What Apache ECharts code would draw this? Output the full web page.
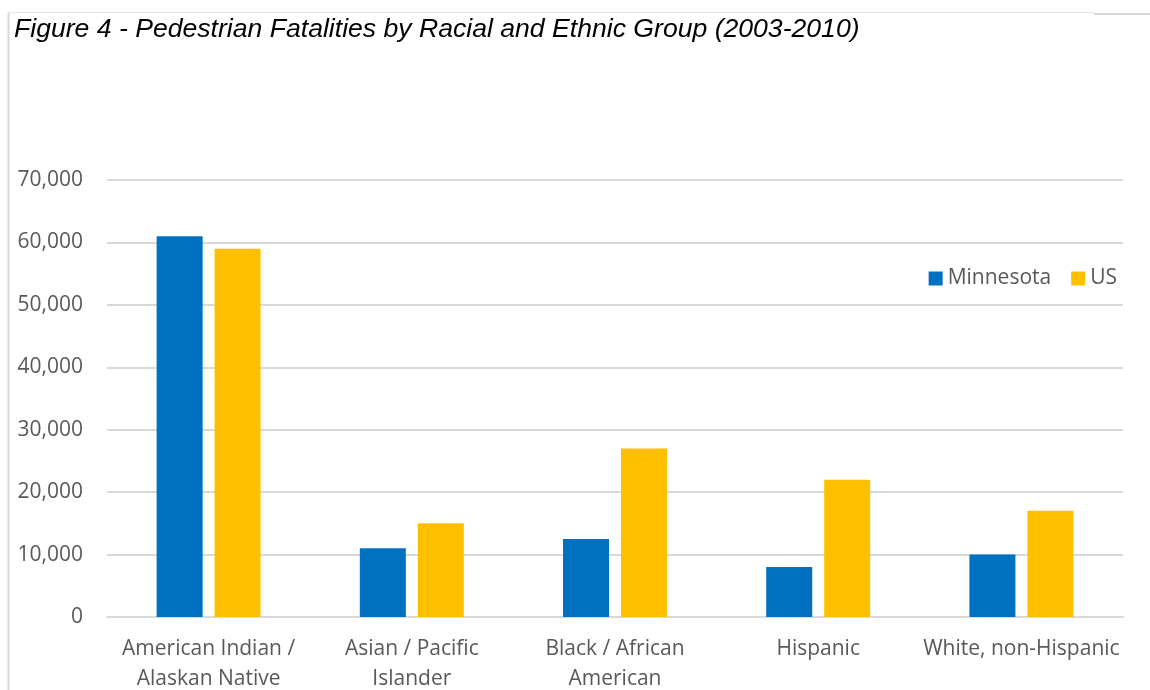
<!DOCTYPE html>
<html>
<head>
<meta charset="utf-8">
<script src="https://cdn.jsdelivr.net/npm/echarts@6/dist/echarts.min.js"></script>
<style>
  html, body { margin: 0; padding: 0; background: #fff; }
  #chart { width: 1150px; height: 690px; }
</style>
</head>
<body>
<div id="chart"></div>
<script>
// Pedestrian fatalities by racial and ethnic group, 2003-2010
const categories = [
  'American Indian /\nAlaskan Native',
  'Asian / Pacific\nIslander',
  'Black / African\nAmerican',
  'Hispanic',
  'White, non-Hispanic'
];
const minnesota = [61000, 11000, 12500, 8000, 10000];
const us = [59000, 15000, 27000, 22000, 17000];
const seriesNames = ['Minnesota', 'US'];
const yTicks = { min: 0, max: 70000, interval: 10000 };

const labelFont = 'Open Sans, Lato, sans-serif';
const chart = echarts.init(document.getElementById('chart'));

chart.setOption({
  animation: false,
  title: {
    text: 'Figure 4 - Pedestrian Fatalities by Racial and Ethnic Group (2003-2010)',
    left: 9,
    top: 11,
    textStyle: {
      fontFamily: 'Liberation Sans, Arial, sans-serif',
      fontStyle: 'italic',
      fontWeight: 'normal',
      fontSize: 26.6,
      color: '#000'
    }
  },
  graphic: [
    { type: 'line', shape: { x1: 8.5, y1: 12, x2: 8.5, y2: 690 }, style: { stroke: '#d9d9d9', lineWidth: 2 } },
    { type: 'line', shape: { x1: 8, y1: 12.5, x2: 1094, y2: 12.5 }, style: { stroke: '#e6e6e6', lineWidth: 1 } },
    { type: 'line', shape: { x1: 1094, y1: 14, x2: 1150, y2: 14 }, style: { stroke: '#d9d9d9', lineWidth: 2 } }
  ],
  legend: {
    data: seriesNames,
    right: 28,
    top: 263,
    itemWidth: 14,
    itemHeight: 14,
    itemGap: 20,
    icon: 'rect',
    textStyle: { fontFamily: labelFont, fontSize: 21, color: '#595959' }
  },
  grid: {
    left: 107, right: 27, top: 180, bottom: 73,
    containLabel: false,
    outerBoundsMode: 'none'
  },
  xAxis: {
    type: 'category',
    data: categories,
    axisTick: { show: false },
    axisLine: { lineStyle: { color: '#d9d9d9', width: 2 } },
    axisLabel: {
      interval: 0,
      margin: 17,
      fontFamily: labelFont,
      fontSize: 21,
      lineHeight: 30,
      color: '#595959'
    }
  },
  yAxis: {
    type: 'value',
    min: yTicks.min,
    max: yTicks.max,
    interval: yTicks.interval,
    axisLine: { show: false },
    axisTick: { show: false },
    splitLine: { lineStyle: { color: '#d9d9d9', width: 2 } },
    axisLabel: {
      margin: 24,
      fontFamily: labelFont,
      fontSize: 21,
      color: '#595959',
      formatter: v => v.toLocaleString('en-US')
    }
  },
  series: [
    {
      name: seriesNames[0],
      type: 'bar',
      data: minnesota,
      barWidth: 46,
      barGap: '26%',
      itemStyle: { color: '#0070c0' }
    },
    {
      name: seriesNames[1],
      type: 'bar',
      data: us,
      barWidth: 46,
      barGap: '26%',
      itemStyle: { color: '#ffc000' }
    }
  ]
});
</script>
</body>
</html>
